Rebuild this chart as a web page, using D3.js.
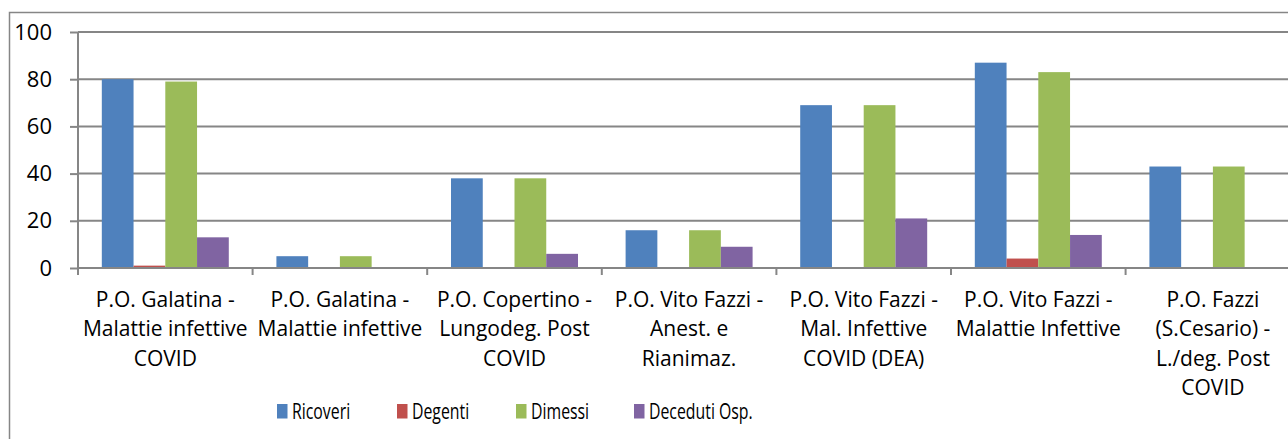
<!DOCTYPE html>
<html>
<head>
<meta charset="utf-8">
<script src="https://cdn.jsdelivr.net/npm/d3@7"></script>
<style>
  body { margin: 0; background: #fff; }
  text { font-family: "Open Sans", Lato, sans-serif; fill: #000; font-variant-ligatures: none; }
</style>
</head>
<body>
<svg width="1288" height="439"></svg>
<script>
// categories (already split into the lines shown under the axis)
var categories = [
    ["P.O. Galatina -", "Malattie infettive", "COVID"],
    ["P.O. Galatina -", "Malattie infettive"],
    ["P.O. Copertino -", "Lungodeg. Post", "COVID"],
    ["P.O. Vito Fazzi -", "Anest. e", "Rianimaz."],
    ["P.O. Vito Fazzi -", "Mal. Infettive", "COVID (DEA)"],
    ["P.O. Vito Fazzi -", "Malattie Infettive"],
    ["P.O. Fazzi", "(S.Cesario) -", "L./deg. Post", "COVID"]
];
var seriesNames = ["Ricoveri", "Degenti", "Dimessi", "Deceduti Osp."];
var ricoveri = [80, 5, 38, 16, 69, 87, 43];
var degenti = [1, 0, 0, 0, 0, 4, 0];
var dimessi = [79, 5, 38, 16, 69, 83, 43];
var deceduti = [13, 0, 6, 9, 21, 14, 0];
var yTicks = [0, 20, 40, 60, 80, 100];
var colors = ["#4f81bd", "#c0504d", "#9bbb59", "#8064a2"];

var series = [ricoveri, degenti, dimessi, deceduti];

var svg = d3.select("svg"),
    plotLeft = 78, plotTop = 32, plotBottom = 268,
    bandW = 174.6,
    plotRight = plotLeft + bandW * categories.length;

// outer chart frame
svg.append("rect")
    .attr("x", 9.5).attr("y", 12.5)
    .attr("width", 1300).attr("height", 440)
    .attr("fill", "none").attr("stroke", "#868686").attr("stroke-width", 1.5);

var x = d3.scaleBand()
    .domain(d3.range(categories.length))
    .range([plotLeft, plotRight]);

var x1 = d3.scaleBand()
    .domain(d3.range(series.length))
    .range([0, bandW])
    .paddingOuter(0.75);

var y = d3.scaleLinear().domain([0, 100]).range([plotBottom, plotTop]);

var g = svg.append("g");

// gridlines
g.selectAll("line.grid")
    .data(yTicks.slice(1))
    .enter().append("line")
    .attr("class", "grid")
    .attr("x1", plotLeft).attr("x2", plotRight)
    .attr("y1", function (d) { return y(d); })
    .attr("y2", function (d) { return y(d); })
    .attr("stroke", "#868686").attr("stroke-width", 2);

// bars
series.forEach(function (vals, si) {
    g.selectAll("rect.s" + si)
        .data(vals)
        .enter().append("rect")
        .attr("class", "s" + si)
        .attr("x", function (d, i) { return x(i) + x1(si); })
        .attr("width", x1.bandwidth())
        .attr("y", function (d) { return y(d); })
        .attr("height", function (d) { return y(0) - y(d); })
        .attr("fill", colors[si]);
});

// y axis
var yAxis = d3.axisLeft(y).tickValues(yTicks).tickSize(8).tickPadding(18);
var ya = svg.append("g").attr("transform", "translate(" + plotLeft + ",0)").call(yAxis);
ya.select(".domain").attr("stroke", "#868686").attr("stroke-width", 2).attr("d", "M0," + plotTop + "V" + plotBottom);
ya.selectAll(".tick line").attr("stroke", "#868686").attr("stroke-width", 2);
ya.selectAll(".tick text").style("font-size", "22px").attr("fill", "#000").attr("font-family", null);

// x axis line with ticks at band boundaries
svg.append("line")
    .attr("x1", plotLeft).attr("x2", plotRight)
    .attr("y1", plotBottom).attr("y2", plotBottom)
    .attr("stroke", "#868686").attr("stroke-width", 2);
svg.selectAll("line.xtick")
    .data(d3.range(categories.length + 1))
    .enter().append("line")
    .attr("class", "xtick")
    .attr("x1", function (d) { return plotLeft + d * bandW; })
    .attr("x2", function (d) { return plotLeft + d * bandW; })
    .attr("y1", plotBottom).attr("y2", plotBottom + 7)
    .attr("stroke", "#868686").attr("stroke-width", 2);

// category labels
var lab = svg.selectAll("text.cat")
    .data(categories)
    .enter().append("text")
    .attr("class", "cat")
    .attr("text-anchor", "middle")
    .style("font-size", "21px");
lab.selectAll("tspan")
    .data(function (d, i) { return d.map(function (t) { return { t: t, i: i }; }); })
    .enter().append("tspan")
    .attr("x", function (d) { return x(d.i) + bandW / 2; })
    .attr("y", function (d, j) { return 307 + j * 29.3; })
    .text(function (d) { return d.t; });

// legend (text looks horizontally squeezed in the original)
var legX = [277, 397, 516, 634];
var leg = svg.selectAll("g.leg")
    .data(seriesNames)
    .enter().append("g")
    .attr("class", "leg")
    .attr("transform", function (d, i) { return "translate(" + legX[i] + ",404)"; });
leg.append("rect")
    .attr("width", 10.5).attr("height", 14.5)
    .attr("fill", function (d, i) { return colors[i]; });
leg.append("text")
    .attr("transform", "translate(15,15) scale(0.72,1)")
    .style("font-size", "22px")
    .text(function (d) { return d; });
</script>
</body>
</html>
